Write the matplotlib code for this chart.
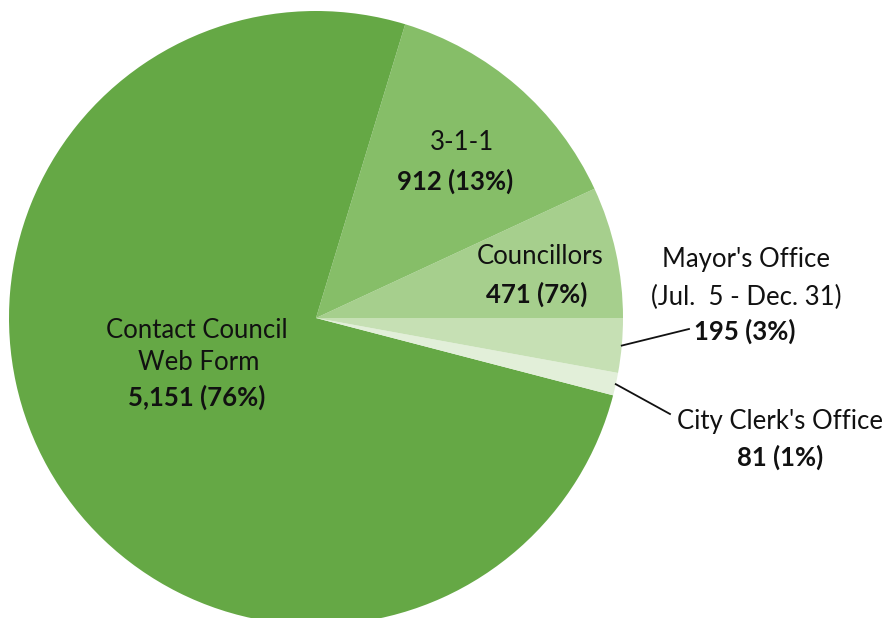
import numpy as np
import matplotlib.pyplot as plt

# Datos del grafico
categorias = ["Councillors", "3-1-1", "Contact Council\nWeb Form", "City Clerk's Office", "Mayor's Office"]
valores = [471, 912, 5151, 81, 195]
colores = ["#a6cf8d", "#86be68", "#65a845", "#e2efd9", "#c6e0b4"]

plt.rcParams['font.family'] = ['Lato', 'DejaVu Sans']

fig = plt.figure(figsize=(8.84, 6.18), dpi=100)
ax = fig.add_axes([0, 0, 1, 1])

cx, cy, r = 316, 300, 307
wedges, _ = ax.pie(valores, colors=colores, startangle=0, counterclock=True,
                   radius=r, center=(cx, cy), frame=True,
                   wedgeprops=dict(linewidth=0))
ax.set_xlim(0, 884)
ax.set_ylim(0, 618)
ax.set_aspect('equal')
ax.axis('off')

total = sum(valores)
def pct(v):
    return "%d%%" % round(v * 100 / total)

def txt(x, y, s, bold=False):
    ax.text(x, 618 - y, s, ha='center', va='center', fontsize=18.5,
            fontweight='bold' if bold else 'normal', color='#111111')

# Etiquetas dentro de la torta
txt(462, 143, "3-1-1")
txt(455, 181, "{:,} ({})".format(valores[1], pct(valores[1])), True)
txt(540, 257, "Councillors")
txt(537, 294, "{:,} ({})".format(valores[0], pct(valores[0])), True)
txt(197, 330, "Contact Council")
txt(199, 363, "Web Form")
txt(197, 397, "{:,} ({})".format(valores[2], pct(valores[2])), True)

# Etiquetas fuera con lineas guia
txt(746, 260, "Mayor's Office")
txt(746, 297, "(Jul.  5 - Dec. 31)")
txt(745, 331, "{:,} ({})".format(valores[4], pct(valores[4])), True)
txt(780, 422, "City Clerk's Office")
txt(780, 457, "{:,} ({})".format(valores[3], pct(valores[3])), True)

for w, (ex, ey) in [(wedges[4], (689, 329)), (wedges[3], (670, 414))]:
    ang = np.deg2rad((w.theta1 + w.theta2) / 2)
    sx = cx + r * np.cos(ang)
    sy = cy + r * np.sin(ang)
    ax.plot([sx, ex], [sy, 618 - ey], color='#111111', linewidth=1.3)

fig.savefig('out.png', dpi=100)
